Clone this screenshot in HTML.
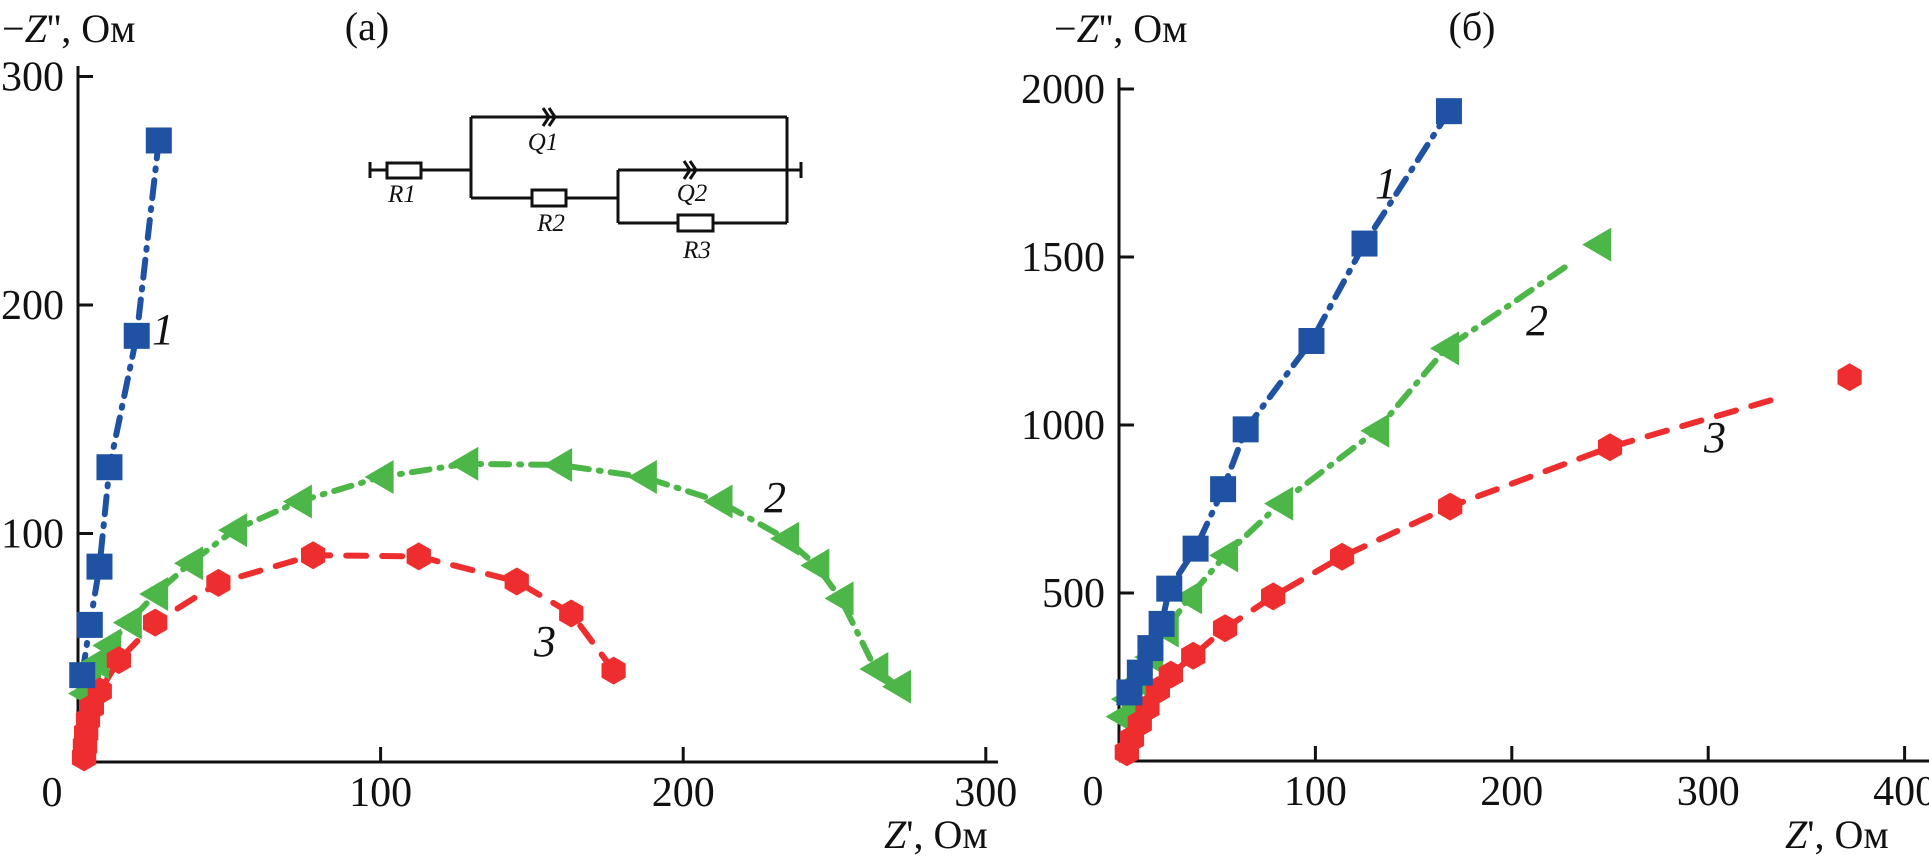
<!DOCTYPE html>
<html><head><meta charset="utf-8"><style>
html,body{margin:0;padding:0;background:#fff}
svg{display:block}
text{font-family:"Liberation Serif",serif;fill:#111}
</style></head><body>
<svg id="chart" width="1929" height="864" viewBox="0 0 1929 864" xmlns="http://www.w3.org/2000/svg">
<g id="panelA"></g>
<g id="panelB"></g>
<g id="circuit" stroke="#111" stroke-width="3" fill="none">
  <line x1="370" y1="162" x2="370" y2="178"/>
  <line x1="370" y1="170" x2="387" y2="170"/>
  <rect x="387" y="163" width="34" height="15" fill="#fff"/>
  <line x1="421" y1="170" x2="471" y2="170"/>
  <line x1="471" y1="117" x2="471" y2="198"/>
  <line x1="471" y1="117" x2="787" y2="117"/>
  <path d="M543 108 L549 117 L543 126 M549 108 L555 117 L549 126"/>
  <line x1="787" y1="117" x2="787" y2="223"/>
  <line x1="471" y1="198" x2="532" y2="198"/>
  <rect x="532" y="190" width="34" height="16" fill="#fff"/>
  <line x1="566" y1="198" x2="618" y2="198"/>
  <line x1="618" y1="170" x2="618" y2="223"/>
  <line x1="618" y1="170" x2="801" y2="170"/>
  <path d="M684 161 L690 170 L684 179 M690 161 L696 170 L690 179"/>
  <line x1="801" y1="162" x2="801" y2="178"/>
  <line x1="618" y1="223" x2="678" y2="223"/>
  <rect x="678" y="215" width="35" height="16" fill="#fff"/>
  <line x1="713" y1="223" x2="787" y2="223"/>
</g>
<g font-style="italic" font-size="25">
  <text x="543" y="150" text-anchor="middle">Q1</text>
  <text x="402" y="202" text-anchor="middle">R1</text>
  <text x="551" y="231" text-anchor="middle">R2</text>
  <text x="692" y="201" text-anchor="middle">Q2</text>
  <text x="697" y="258" text-anchor="middle">R3</text>
</g>
</svg>
<script>
// Panel (a) data
const a1x=[26.7,19.4,10.4,7.1,3.9,1.4];
const a1y=[272,186.5,129,85.5,60,38];
const a2x=[271,263.5,252,244,234,212,187,159,128,100,73,51.6,37,25.5,16.8,10,6,3.3,2];
const a2y=[33,40.7,71.6,86,97.7,114,124.7,130,130.5,124.7,114,101.5,87,73.5,61,51,43.6,36,30];
const a3x=[177,163,145,112.6,77.7,46.4,25.5,13.5,7.2,4.6,3.3,2.7,2.3,2];
const a3y=[40,65,79,90,90.5,78.4,61,44.6,31,24,18.5,12.7,7,2];
const aXTicks=[0,100,200,300];
const aYTicks=[100,200,300];
// Panel (b) data
const b1x=[168,125,98,64.5,53,39,25.6,21.7,16,10.6,5.3];
const b1y=[1934,1540,1250,987,809,632,513,408,336,263,204];
const b2x=[244,166.5,131,82,54,35.7,23.8,15.9,9.2,4,1.3];
const b2y=[1537,1228,983,766,612,487,388,309,237,184,132];
const b3x=[372,250,168.6,113.6,78.5,54,37.8,26.4,19.8,14.5,10.6,6.6,4];
const b3y=[1142,934,757,608,490,395,313,257,211,158,112,66,26];
const bXTicks=[0,100,200,300,400];
const bYTicks=[500,1000,1500,2000];

const NS='http://www.w3.org/2000/svg';
const BLUE='#1f52a3',GREEN='#4cb648',RED='#ee2e2e';
function mk(tag,attrs,parent){const e=document.createElementNS(NS,tag);for(const k in attrs)e.setAttribute(k,attrs[k]);parent.appendChild(e);return e;}

function panel(g,o){
  const X=v=>o.x0+v*o.kx, Y=v=>o.y0-v*o.ky;
  let ax=mk('line',{x1:o.x0,y1:o.y0,x2:o.x0,y2:o.ytop,stroke:'#111','stroke-width':3},g);
  
  
  let bx=mk('line',{x1:o.x0,y1:o.y0,x2:o.xend,y2:o.y0,stroke:'#111','stroke-width':3},g);
  
  
  o.yt.forEach(v=>{
    let t=mk('line',{x1:o.x0,y1:Y(v),x2:o.x0+15,y2:Y(v),stroke:'#111','stroke-width':3},g);
    
    
    let l=mk('text',{x:o.x0-14,y:Y(v)+14,'text-anchor':'end','font-size':42},g);l.textContent=v;
    
    
  });
  o.xt.forEach(v=>{
    if(v>0){let t=mk('line',{x1:X(v),y1:o.y0,x2:X(v),y2:o.y0-15,stroke:'#111','stroke-width':3},g);
    
    }
    let l=mk('text',{x:v===0?o.x0-26:X(v),y:o.y0+44,'text-anchor':'middle','font-size':42},g);l.textContent=v;
    
    
  });
  o.series.forEach(s=>{
    let pts=[];
    for(let i=0;i<s.x.length;i++){
      let px=X(s.x[i]),py=Y(s.y[i]);
      if(i===0&&s.trim){const nx=X(s.x[1]),ny=Y(s.y[1]);px=nx+(px-nx)*s.trim;py=ny+(py-ny)*s.trim;}
      pts.push(px.toFixed(1)+','+py.toFixed(1));
    }
    let pl=mk('polyline',{points:pts.join(' '),fill:'none',stroke:s.c,'stroke-width':6,'stroke-dasharray':s.dash,'stroke-linecap':'round'},g);
    
    
  });
  o.series.forEach(s=>{
    for(let i=0;i<s.x.length;i++){
      const cx=X(s.x[i]),cy=Y(s.y[i]);let m;
      if(s.m==='sq')m=mk('rect',{x:cx-13,y:cy-13,width:26,height:26,fill:s.c},g);
      else if(s.m==='tri')m=mk('polygon',{points:`${cx-16},${cy} ${cx+13},${cy-17} ${cx+13},${cy+17}`,fill:s.c},g);
      else{const r=14;let p=[];for(let k=0;k<6;k++){const a=Math.PI/3*k+Math.PI/6;p.push((cx+r*Math.cos(a)).toFixed(1)+','+(cy+r*Math.sin(a)).toFixed(1));}m=mk('polygon',{points:p.join(' '),fill:s.c},g);}
      
      
    }
  });
}
panel(document.getElementById('panelA'),{x0:78,y0:762,kx:3.026,ky:2.285,ytop:66,xend:998,xt:aXTicks,yt:aYTicks,
 series:[
  {id:'2',x:a2x,y:a2y,c:GREEN,m:'tri',dash:'18 10 2 10'},
  {id:'3',x:a3x,y:a3y,c:RED,m:'hex',dash:'20 16'},
  {id:'1',x:a1x,y:a1y,c:BLUE,m:'sq',dash:'18 10 2 10'}]});
panel(document.getElementById('panelB'),{x0:1119,y0:761,kx:1.964,ky:0.336,ytop:78,xend:1929,xt:bXTicks,yt:bYTicks,
 series:[
  {id:'2',x:b2x,y:b2y,c:GREEN,m:'tri',dash:'18 10 2 10',trim:0.78},
  {id:'3',x:b3x,y:b3y,c:RED,m:'hex',dash:'20 16',trim:0.67},
  {id:'1',x:b1x,y:b1y,c:BLUE,m:'sq',dash:'18 10 2 10'}]});
</script>
<svg style="position:absolute;left:0;top:0" width="1929" height="864" xmlns="http://www.w3.org/2000/svg">
<g font-family="Liberation Serif, serif" font-size="40" fill="#111">
 <text x="2" y="42">−<tspan font-style="italic">Z</tspan>'', Ом</text>
 <text x="367" y="40" text-anchor="middle">(а)</text>
 <text x="884" y="848"><tspan font-style="italic">Z</tspan>', Ом</text>
 <text x="1054" y="42">−<tspan font-style="italic">Z</tspan>'', Ом</text>
 <text x="1472" y="40" text-anchor="middle">(б)</text>
 <text x="1785" y="848"><tspan font-style="italic">Z</tspan>', Ом</text>
</g>
<g font-family="Liberation Serif, serif" font-size="44" font-style="italic" fill="#111">
 <text x="163" y="344" text-anchor="middle">1</text>
 <text x="775" y="512" text-anchor="middle">2</text>
 <text x="545" y="656" text-anchor="middle">3</text>
 <text x="1386" y="198" text-anchor="middle">1</text>
 <text x="1537" y="335" text-anchor="middle">2</text>
 <text x="1715" y="452" text-anchor="middle">3</text>
</g>
</svg>
</body></html>
